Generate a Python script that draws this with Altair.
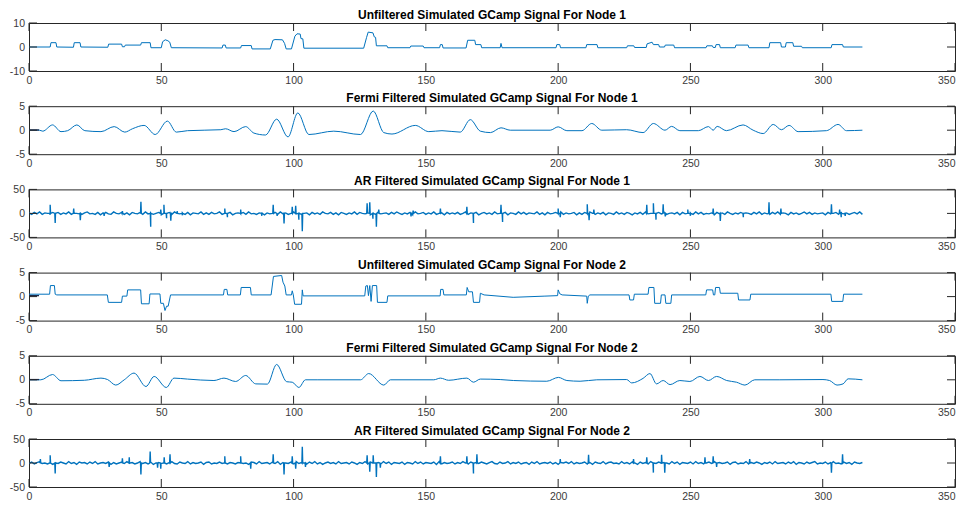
import altair as alt
import pandas as pd

FONT = "Liberation Sans, Arial, Helvetica, sans-serif"
LINE_COLOR = "#0072BD"
DARK_COLOR = "#1c2a4a"
AXIS_COLOR = "#262626"
LABEL_COLOR = "#3a3a3a"

TITLES = [
    "Unfiltered Simulated GCamp Signal For Node 1",
    "Fermi Filtered Simulated GCamp Signal For Node 1",
    "AR Filtered Simulated GCamp Signal For Node 1",
    "Unfiltered Simulated GCamp Signal For Node 2",
    "Fermi Filtered Simulated GCamp Signal For Node 2",
    "AR Filtered Simulated GCamp Signal For Node 2",
]
X_TICKS = [0, 50, 100, 150, 200, 250, 300, 350]
Y_TICKS_U1 = [-10, 0, 10]
Y_TICKS_SMALL = [-5, 0, 5]
Y_TICKS_AR = [-50, 0, 50]

# Unfiltered node 1 (x, value)
U1 = [
    (0, 0), (8.0, 0), (8.3, 1.8), (10.2, 1.8), (10.5, 0), (16.8, -0.1), (17.1, 1.8),
    (19.3, 1.8), (19.6, 0), (29.8, -0.1), (30.1, 1.2), (35.0, 1.2), (35.3, 0.1),
    (36.1, 0.1), (36.4, 0.8), (42.2, 0.8), (42.5, 1.8), (45.8, 1.8), (46.1, -0.3),
    (50.0, -0.3), (50.5, 2.2), (51.5, 3.0), (52.5, 2.6), (53.2, 2.0), (53.8, -0.3),
    (73.0, -0.4), (73.3, 0.8), (74.2, 0.8), (74.5, -0.4), (80.0, -0.4), (80.3, 0.6),
    (84.0, 0.6), (84.3, -0.8), (91.2, -0.8), (92.2, 2.8), (93.0, 3.1), (95.8, 3.0),
    (96.6, 1.5), (97.2, -0.8), (99.2, -0.8), (100.5, 4.5), (101.3, 5.5), (102.5, 5.4),
    (102.8, 3.5), (103.5, 3.4), (103.9, -0.5), (126.5, -0.5), (127.6, 4.0), (128.2, 6.2),
    (130.0, 5.9), (130.5, 4.2), (131.0, 4.0), (131.3, 0.5), (135.3, 0.5), (135.6, -0.3),
    (144.0, -0.3), (144.3, 0.4), (149.0, 0.4), (149.3, -0.3), (155.2, -0.3), (155.5, 1.0),
    (156.2, 1.0), (156.5, -0.4), (165.2, -0.4), (165.8, 2.8), (168.5, 2.8), (168.8, 1.0),
    (170.8, 1.0), (171.1, -0.3), (178.1, -0.3), (178.4, 1.5), (178.8, -0.3), (199.2, -0.3),
    (199.5, 1.0), (200.6, 1.0), (200.9, -0.3), (210.5, -0.3), (210.8, 1.0), (214.7, 1.0),
    (215.0, -0.3), (225.9, -0.3), (226.2, 0.5), (228.6, 0.5), (228.9, -0.2), (233.3, -0.2),
    (233.6, 1.3), (235.5, 2.0), (236.0, 1.0), (238.0, 1.0), (238.3, 0.0), (240.2, 0.0),
    (240.5, 0.8), (243.7, 0.8), (244.0, -0.3), (255.9, -0.3), (256.2, 0.5), (258.3, 0.5),
    (258.6, -0.2), (259.4, -0.2), (259.7, 1.0), (261.0, 1.0), (261.3, -0.3), (266.9, -0.3),
    (267.2, 0.8), (271.8, 0.8), (272.1, -0.3), (279.7, -0.3), (280.0, 1.8), (284.1, 1.8),
    (284.4, 0.0), (285.9, 0.0), (286.2, 1.8), (288.7, 1.8), (289.0, 0.3), (292.0, 0.3),
    (292.3, -0.3), (303.2, -0.3), (303.5, 1.0), (307.5, 1.0), (307.8, 0.0), (315.0, 0.0),
]

# Fermi filtered node 1
F1 = [
    (0, 0), (3.9, 0), (5.2, -0.2), (8.9, 1.1), (12.1, -0.3), (14.6, -0.1), (18.1, 1.1),
    (21.1, -0.1), (27.2, -0.3), (32.2, 0.75), (36.2, -0.4), (39.1, 0.3), (43.5, 1.0),
    (47.7, -0.9), (52.3, 1.9), (55.7, -0.4), (59.9, -0.1), (72.5, 0.1), (74.3, 0.3),
    (77.5, -0.3), (81.9, 0.75), (85.0, -0.6), (89.4, -1.0), (93.6, 2.3), (97.9, -1.4),
    (101.6, 3.6), (105.8, -0.9), (115.2, -0.2), (125.3, -0.9), (130.1, 4.0), (134.1, -0.5),
    (137.2, -0.8), (146.0, 1.0), (151.1, -0.3), (156.1, -0.1), (163.0, -0.4), (166.8, 2.2),
    (170.6, -0.2), (174.4, -0.5), (178.4, 0.5), (181.9, 0), (197.0, 0), (200.0, 0.7),
    (203.3, -0.1), (209.0, -0.1), (212.7, 1.4), (216.5, 0), (225.9, 0.1), (232.1, -0.5),
    (236.0, 1.4), (240.4, 0), (242.9, 0.8), (246.0, -0.1), (253.0, -0.1), (256.8, 0.75),
    (258.6, 0), (260.1, 0.8), (263.6, -0.1), (269.9, 1.1), (273.7, 0), (277.5, -0.7),
    (281.3, 1.2), (284.4, 0.1), (287.3, 1.0), (290.7, -0.3), (301.4, -0.1), (305.8, 1.2),
    (309.0, -0.1), (315.0, 0),
]

# AR filtered node 1: background ripple (one value per x unit) and spikes (x, value)
A1_NOISE = [
     1, -2,  2, -1,  3, -2,  1,  0, -3,  2, -1,  2, -2,  1, -1,  3, -2,  2,  0, -1,
    -2,  1,  3, -1,  0, -2,  2, -3,  1,  2, -1, -2,  3,  0, -1,  2, -2,  1, -3,  2,
     0, -1,  2, -2,  3, -1,  1, -2,  0,  2, -3,  1, -1,  2, -2,  3,  0, -1,  1, -2,
     2, -3,  1,  0, -1,  3, -2,  1, -2,  2, -1,  0,  3, -2,  1, -1,  2, -3,  0,  1,
    -1,  2, -2,  3, -1,  0, -2,  1,  2, -3,  1, -1,  0,  2, -2,  3, -1,  1, -2,  0,
     3, -1,  2, -2,  0,  1, -3,  2, -1,  1, -2,  3,  0, -1,  2, -2,  1, -3,  2,  0,
    -2,  1, -1,  3, -2,  2,  0, -1,  1, -3,  2, -2,  3, -1,  0,  1, -2,  2, -1,  3,
     0, -2,  1, -1,  2, -3,  3, -1,  0,  2, -2,  1, -1,  3, -2,  0,  1, -3,  2, -1,
     1, -1,  2, -2,  0,  3, -2,  1, -1,  2, -3,  0,  2, -1,  1, -2,  3, -1,  0, -2,
     2, -3,  1,  0, -2,  3, -1,  2, -2,  1,  0, -1,  3, -2,  1, -3,  2, -1,  0,  2,
    -1,  3, -2,  1, -1,  0,  2, -3,  1, -2,  2, -1,  3,  0, -2,  1, -1,  2, -3,  1,
     0, -2,  3, -1,  1, -2,  2,  0, -3,  1, -1,  2, -2,  3, -1,  0,  1, -2,  2, -1,
     3, -2,  0,  1, -1,  2, -3,  2, -1,  0,  1, -2,  3, -1,  2, -2,  0, -1,  1, -3,
     2, -1,  1, -2,  3,  0, -2,  1, -1,  2, -3,  1,  0, -2,  2, -1,  3, -2,  1, -1,
    -2,  2, -1,  3, -2,  1,  0, -3,  2, -1,  1, -2,  0,  3, -1,  2, -2,  1, -1,  0,
     1, -3,  2, -1,  0,  2, -2,  3, -1,  1, -2,  0,  2, -1,  3, -2,
]
A1_SPIKES = [
    (8.0, 18), (9.9, -20), (16.9, 10), (19.4, -14), (28.4, -5), (35.3, 5), (42.3, 24),
    (46.0, -28), (49.8, 8), (51.0, 18), (52.0, -10), (53.6, -15), (56.0, 5), (58.0, -4),
    (74.0, 10), (75.0, -8), (80.0, 8), (88.0, -5), (92.3, 18), (93.8, -5), (96.4, -21),
    (99.5, 14), (100.8, 16), (102.0, -13), (103.3, -37), (127.8, 21), (128.8, 23),
    (130.0, -11), (131.3, -28), (132.2, 8), (144.4, -6), (145.2, 6), (155.5, 10),
    (165.5, 14), (168.0, -20), (178.4, 18), (179.0, -18), (200.0, 10), (200.8, -8),
    (211.0, 19), (211.7, -14), (213.5, 8), (233.5, 18), (236.0, 21), (237.0, -13),
    (239.7, 19), (240.5, -6), (249.0, 8), (250.0, -5), (258.6, 10), (261.3, -16),
    (270.0, -8), (279.7, 23), (284.2, 10), (303.3, 19), (306.4, 8), (307.0, -8), (308.5, -5),
]

# Unfiltered node 2
U2 = [
    (0, 0.5), (7.8, 0.5), (8.1, 2.3), (9.6, 2.3), (9.9, 0.5), (10.5, 0.35), (29.6, 0.35),
    (30.0, -1.2), (35.0, -1.2), (35.3, 0.1), (37.0, 0.1), (37.3, 1.4), (42.2, 1.4),
    (42.5, -1.5), (45.4, -1.5), (45.7, 0.55), (49.5, 0.55), (49.8, -1.4), (50.8, -1.4),
    (51.4, -2.9), (52.0, -2.0), (52.6, -2.0), (53.5, 0.35), (73.5, 0.35), (73.8, 1.5),
    (74.8, 1.5), (75.1, 0.35), (79.9, 0.35), (80.2, 1.9), (83.7, 1.9), (84.0, 0.35),
    (91.5, 0.35), (92.4, 4.2), (95.5, 4.4), (96.0, 3.0), (96.7, 2.2), (97.2, 0.35),
    (99.2, 0.35), (99.5, 1.2), (99.9, 0.35), (100.4, -1.6), (103.0, -1.6), (103.3, 1.4),
    (103.6, 0.15), (126.9, 0.15), (127.3, 2.2), (127.9, 2.3), (128.3, 0.2), (128.8, 2.3),
    (129.3, -1.0), (129.8, 2.3), (131.4, 2.3), (131.7, -1.2), (135.3, -1.2), (135.6, 0.15),
    (155.4, 0.15), (155.6, 1.5), (156.5, 1.5), (156.8, 0.35), (165.3, 0.35), (165.6, 1.9),
    (166.2, 1.0), (167.6, 1.0), (168.0, -1.2), (170.3, -1.2), (170.6, 0.7), (172.0, 0.35),
    (183.0, -0.15), (195.0, 0.1), (199.8, 0.2), (200.0, 1.4), (200.6, 0.6), (201.5, 0.35),
    (210.8, 0.1), (211.0, -1.4), (211.4, 0.1), (212.0, 0.35), (226.8, 0.35), (227.1, -0.7),
    (228.5, -0.7), (228.8, 0.5), (234.0, 0.5), (234.3, 1.9), (236.2, 1.9), (236.5, -1.4),
    (238.7, -1.4), (239.0, 0.35), (240.4, 0.35), (240.7, -1.4), (242.6, -1.4), (242.9, 0.35),
    (255.8, 0.35), (256.1, 1.4), (258.4, 1.4), (258.7, 0.35), (259.2, 0.35), (259.5, 1.9),
    (261.0, 1.9), (261.3, 0.7), (267.9, 0.7), (268.2, -0.7), (272.5, -0.7), (272.8, 0.5),
    (303.1, 0.5), (303.4, -1.0), (307.6, -1.0), (307.9, 0.5), (315.0, 0.5),
]

# Fermi filtered node 2
F2 = [
    (0, 0), (4.5, 0), (8.9, 1.1), (12.1, -0.2), (20.9, -0.1), (27.2, 0.35), (29.7, 0.05),
    (32.8, -1.1), (36.0, 0), (39.7, 1.4), (44.2, -1.4), (47.3, 0.7), (51.9, -1.6),
    (54.8, 0.35), (59.9, 0.15), (69.9, -0.15), (73.7, 0.35), (78.1, -0.35), (81.9, 0.9),
    (85.7, -0.85), (90.1, -0.9), (93.6, 3.2), (97.4, -0.4), (99.5, -0.5), (102.0, -1.6),
    (104.5, 0), (108.9, 0), (125.3, 0), (128.4, 1.3), (134.1, -1.1), (136.6, 0), (153.0, 0),
    (155.5, 0.35), (158.6, -0.1), (165.5, 0.35), (168.0, -0.5), (170.6, 0.15), (178.1, 0.05),
    (183.2, -0.15), (195.7, -0.3), (200.1, 0.5), (203.3, -0.15), (208.3, -0.3), (214.6, 0),
    (225.9, 0.05), (227.8, -0.65), (232.1, 0.3), (234.7, 1.3), (237.2, -0.85), (239.7, -0.15),
    (242.3, -1.0), (246.0, -0.15), (249.8, -0.35), (253.6, 0.7), (256.8, -0.15), (259.9, 0.7),
    (263.7, -0.15), (267.4, -0.5), (270.6, -1.1), (274.3, 0), (283.8, 0), (300.1, 0.05),
    (302.6, -0.15), (305.4, -1.1), (307.7, -0.85), (309.6, 0.2), (315.0, 0),
]

# AR filtered node 2
A2_NOISE = [
    -1,  2, -2,  1,  3, -1,  0, -2,  2, -3,  1, -1,  2,  0, -2,  3, -1,  1, -3,  2,
     0,  1, -2,  2, -1,  3, -2,  0,  1, -1,  2, -3,  1, -2,  0,  2, -1,  3, -2,  1,
    -2,  0,  3, -1,  1, -2,  2, -3,  0,  1, -1,  2, -2,  1,  3, -1, -2,  2,  0, -1,
     3, -2,  1, -1,  0,  2, -3,  1,  2, -2,  0, -1,  2, -1,  3, -2,  1,  0, -2,  1,
     2, -1,  0, -3,  2,  1, -2,  3, -1,  0,  1, -2,  2, -1,  3, -3,  1,  0, -1,  2,
    -2,  3, -1,  1,  0, -2,  2, -1,  3, -2,  1, -3,  0,  2, -1,  1, -2,  3, -1,  0,
     1, -2,  2,  0, -3,  1, -1,  3, -2,  2, -1,  0,  1, -2,  3, -1,  2, -3,  1,  0,
    -1,  2, -3,  1,  0, -2,  3, -1,  2, -2,  1,  0, -1,  2, -3,  3, -2,  1, -1,  0,
     2, -2,  1, -1,  3,  0, -2,  2, -3,  1, -1,  2,  0, -2,  1,  3, -1, -2,  2, -1,
     0,  3, -2,  1, -1,  2, -2,  0,  1, -3,  2, -1,  3, -2,  0,  1, -1,  2, -2,  1,
    -3,  1,  0,  2, -1,  3, -2,  1, -1,  0,  2, -2,  1, -3,  2,  0, -1,  3, -2,  1,
     2, -1,  0, -2,  3, -1,  1, -2,  2,  0, -3,  2, -1,  1, -2,  3,  0, -1,  2, -2,
     1,  0, -2,  3, -1,  2, -3,  1,  0, -1,  2, -2,  3, -1,  1, -2,  0,  2, -1,  3,
    -2,  1, -1,  0,  2, -3,  1,  2, -2,  0, -1,  3, -2,  1, -1,  2,  0, -3,  1, -1,
     2, -2,  3, -1,  0,  1, -2,  2, -1,  3, -3,  1,  0, -2,  2, -1,  1,  3, -2,  0,
    -1,  2, -2,  1,  3, -1,  0, -2,  2, -1,  1, -3,  2,  0, -1,  1,
]
A2_SPIKES = [
    (4.3, 8), (8.0, 16), (9.9, -22), (30.3, -8), (35.3, 10), (37.9, 12), (42.3, -24),
    (45.8, 24), (48.6, -10), (49.8, -12), (51.1, 12), (53.3, 18), (74.0, 14), (80.0, 14),
    (83.8, -12), (92.3, 18), (96.4, -24), (99.5, 14), (100.8, -12), (103.3, 34), (104.5, -8),
    (127.8, 16), (128.8, -18), (130.1, 16), (131.3, -29), (132.8, -10), (155.5, 14),
    (165.5, 14), (168.0, -22), (169.3, 18), (200.8, 8), (211.5, 17), (228.5, 8), (233.5, 12),
    (236.0, -20), (239.1, 17), (240.3, -20), (255.5, 12), (258.6, 14), (259.9, -8),
    (272.4, 8), (303.3, -20), (307.5, 18),
]

# short dark trace at the very start of some panels
START_TRACE_F1 = [(0, 0.05), (3.8, 0.05)]
START_TRACE_U2 = [(0, 0.2), (3.8, 0.2)]
START_TRACE_F2 = [(0, 0.05), (3.8, 0.05)]

PLOT_W = 926
PLOT_H = 48
TICK_LEN = 8


def ar_points(noise, spikes):
    pts = [(float(i), float(v)) for i, v in enumerate(noise)]
    for sx, sv in spikes:
        pts += [(sx - 0.15, 0.0), (sx, float(sv)), (sx + 0.15, 0.0)]
    return sorted(pts)


def make_panel(points, title, yticks, interp="linear", width=1.0, extra=None):
    df = pd.DataFrame(points, columns=["x", "y"])
    xs = alt.Scale(domain=[0, 350], nice=False, zero=False)
    ys = alt.Scale(domain=[yticks[0], yticks[-1]], nice=False, zero=False)
    common = dict(ticks=False, tickSize=0, domain=False, grid=False, title=None,
                  labelFontSize=10.5, labelColor=LABEL_COLOR, labelFont=FONT,
                  labelExpr="'' + datum.value")
    x_axis = alt.Axis(orient="bottom", values=X_TICKS, labelPadding=4,
                      labelFlush=False,
                      labelAlign={"expr": "datum.value == 350 ? 'right' : 'center'"},
                      **common)
    y_axis = alt.Axis(orient="left", values=yticks, labelPadding=4.5, **common)
    X = lambda: alt.X("x:Q", scale=xs, axis=x_axis)
    Y = lambda: alt.Y("y:Q", scale=ys, axis=y_axis)

    layers = [alt.Chart(df).mark_line(color=LINE_COLOR, strokeWidth=width,
                                      interpolate=interp, clip=True).encode(x=X(), y=Y())]
    if extra is not None:
        edf = pd.DataFrame(extra, columns=["x", "y"])
        layers.append(alt.Chart(edf).mark_line(color=DARK_COLOR, strokeWidth=1.3)
                      .encode(x=X(), y=Y()))

    # inward-pointing ticks on all four sides (MATLAB style)
    xt = pd.DataFrame({"x": X_TICKS})
    yt = pd.DataFrame({"y": yticks})
    tick = dict(color=AXIS_COLOR, strokeWidth=1)
    layers.append(alt.Chart(xt).mark_rule(**tick).encode(
        x=X(), y=alt.value(0), y2=alt.value(TICK_LEN)))
    layers.append(alt.Chart(xt).mark_rule(**tick).encode(
        x=X(), y=alt.value(PLOT_H - TICK_LEN), y2=alt.value(PLOT_H)))
    layers.append(alt.Chart(yt).mark_rule(**tick).encode(
        y=Y(), x=alt.value(0), x2=alt.value(TICK_LEN)))
    layers.append(alt.Chart(yt).mark_rule(**tick).encode(
        y=Y(), x=alt.value(PLOT_W - TICK_LEN), x2=alt.value(PLOT_W)))

    return alt.layer(*layers).properties(
        width=PLOT_W, height=PLOT_H,
        title=alt.TitleParams(title, fontSize=12, fontWeight="bold", font=FONT,
                              color="#000000", anchor="middle", offset=-4),
    )


panels = [
    make_panel(U1, TITLES[0], Y_TICKS_U1),
    make_panel(F1, TITLES[1], Y_TICKS_SMALL, interp="monotone", extra=START_TRACE_F1),
    make_panel(ar_points(A1_NOISE, A1_SPIKES), TITLES[2], Y_TICKS_AR, width=1.4),
    make_panel(U2, TITLES[3], Y_TICKS_SMALL, extra=START_TRACE_U2),
    make_panel(F2, TITLES[4], Y_TICKS_SMALL, interp="monotone", extra=START_TRACE_F2),
    make_panel(ar_points(A2_NOISE, A2_SPIKES), TITLES[5], Y_TICKS_AR, width=1.4),
]

chart = alt.vconcat(*panels, spacing=5.2).properties(
    padding={"left": 0, "top": 0, "right": 0, "bottom": 0},
    background="#ffffff",
).configure_view(stroke=AXIS_COLOR, strokeWidth=1)

chart.save("out.html", embed_options={"renderer": "svg", "actions": False})
